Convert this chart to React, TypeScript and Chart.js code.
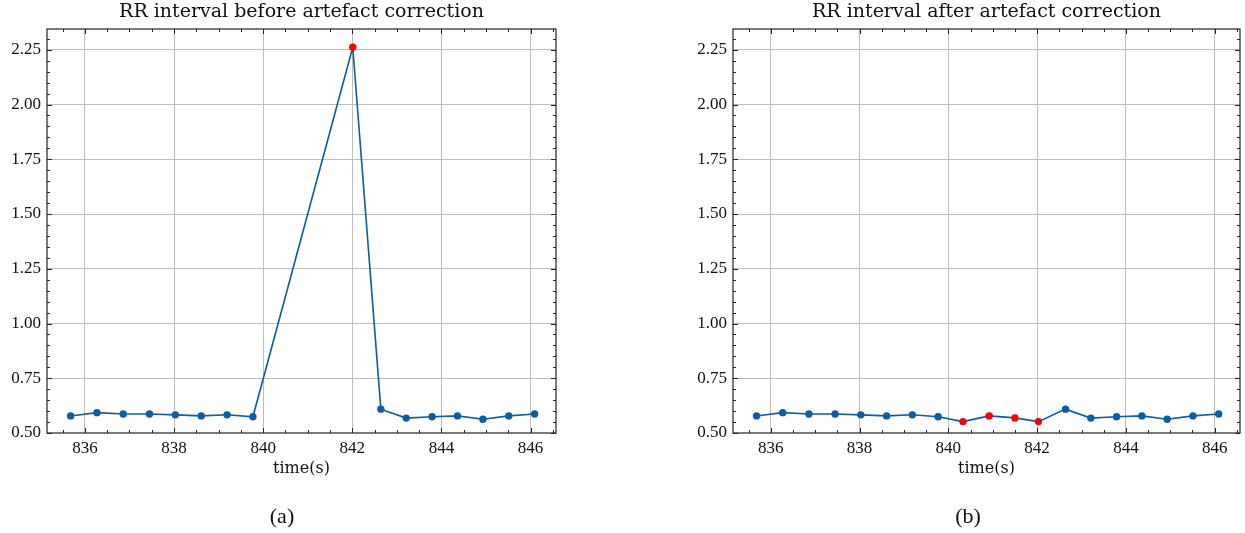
import React, { useEffect, useRef } from "react";
import { Chart, registerables } from "chart.js";

Chart.register(...registerables);

const timesHead = [835.68, 836.27, 836.86, 837.45, 838.03, 838.61, 839.19, 839.77];
const timesTail = [842.64, 843.21, 843.79, 844.36, 844.93, 845.51, 846.09];
const valuesHead = [0.578, 0.593, 0.587, 0.587, 0.583, 0.578, 0.583, 0.574];
const valuesTail = [0.609, 0.568, 0.574, 0.578, 0.563, 0.578, 0.587];

const artefactTimes = [842.01];
const artefactValues = [2.262];
const correctedTimes = [840.33, 840.92, 841.5, 842.03];
const correctedValues = [0.552, 0.578, 0.569, 0.552];

const xTicks = [836, 838, 840, 842, 844, 846];
const yTicks = [0.5, 0.75, 1.0, 1.25, 1.5, 1.75, 2.0, 2.25];

const titles = ["RR interval before artefact correction", "RR interval after artefact correction"];
const captions = ["(a)", "(b)"];
const xLabel = "time(s)";

const X_MIN = 835.15;
const X_MAX = 846.57;
const Y_MIN = 0.5;
const Y_MAX = 2.345;

const BLUE = "#0C5DA5";
const RED = "#FF0000";
const SERIF = "'Liberation Serif', 'DejaVu Serif', serif";
const WIDE_SERIF = "'DejaVu Serif', 'Liberation Serif', serif";

type PanelProps = {
  times: number[];
  values: number[];
  highlight: number[];
  title: string;
  caption: string;
  left: number;
  width: number;
  areaLeft: number;
  areaRight: number;
  captionX: number;
};

function Panel(p: PanelProps) {
  const ref = useRef<HTMLCanvasElement | null>(null);
  useEffect(() => {
    if (!ref.current) return;
    const H = 533;
    const areaTop = 29;
    const areaBottom = 433;
    const pts = p.times.map((t, i) => ({ x: t, y: p.values[i] }));
    const colors = p.times.map((_, i) => (p.highlight.includes(i) ? RED : BLUE));

    const frame = {
      id: "frame",
      afterDraw(chart: any) {
        const { ctx, chartArea: a, scales } = chart;
        const xs = scales.x;
        const ys = scales.y;
        ctx.save();
        ctx.strokeStyle = "#222";
        ctx.lineWidth = 1.2;
        ctx.strokeRect(a.left, a.top, a.right - a.left, a.bottom - a.top);
        ctx.lineWidth = 1;
        for (let k = 0; k <= 30; k++) {
          const v = 835 + k * 0.5;
          if (v < X_MIN || v > X_MAX) continue;
          const px = Math.round(xs.getPixelForValue(v)) + 0.5;
          const major = k % 4 === 2;
          const len = major ? 5 : 3;
          ctx.beginPath();
          ctx.moveTo(px, a.bottom);
          ctx.lineTo(px, a.bottom - len);
          ctx.moveTo(px, a.top);
          ctx.lineTo(px, a.top + len);
          ctx.stroke();
        }
        for (let k = 0; k <= 40; k++) {
          const v = 0.5 + k * 0.05;
          if (v > Y_MAX) break;
          const py = Math.round(ys.getPixelForValue(v)) + 0.5;
          const major = k % 5 === 0;
          const len = major ? 5 : 3;
          ctx.beginPath();
          ctx.moveTo(a.left, py);
          ctx.lineTo(a.left + len, py);
          ctx.moveTo(a.right, py);
          ctx.lineTo(a.right - len, py);
          ctx.stroke();
        }
        ctx.fillStyle = "#111";
        ctx.textAlign = "center";
        ctx.textBaseline = "alphabetic";
        ctx.font = `19px ${WIDE_SERIF}`;
        ctx.fillText(p.title, (a.left + a.right) / 2, 17);
        ctx.font = `16px ${WIDE_SERIF}`;
        ctx.fillText(xLabel, (a.left + a.right) / 2, 473);
        ctx.font = `22px ${SERIF}`;
        ctx.fillText(p.caption, p.captionX - p.left, 523);
        ctx.restore();
      },
    };

    const chart = new Chart(ref.current, {
      type: "line",
      data: {
        datasets: [
          {
            data: pts,
            borderColor: BLUE,
            borderWidth: 1.6,
            pointRadius: 3.7,
            pointHoverRadius: 3.7,
            pointBackgroundColor: colors,
            pointBorderColor: colors,
            pointBorderWidth: 0,
            tension: 0,
            fill: false,
          },
        ],
      },
      options: {
        animation: false,
        responsive: false,
        events: [],
        layout: { padding: { left: 0, right: p.width - p.areaRight, top: areaTop, bottom: 0 } },
        plugins: { legend: { display: false }, title: { display: false }, tooltip: { enabled: false } },
        scales: {
          x: {
            type: "linear",
            min: X_MIN,
            max: X_MAX,
            afterBuildTicks: (s: any) => {
              s.ticks = xTicks.map((v) => ({ value: v }));
            },
            afterFit: (s: any) => {
              s.height = H - areaBottom;
            },
            grid: {
              color: "#bdbdbd",
              lineWidth: 1,
              drawTicks: false,
            },
            border: { display: false },
            ticks: {
              padding: 5,
              color: "#111",
              font: { family: SERIF, size: 17 },
              callback: (v: any) => String(v),
              maxRotation: 0,
            },
          },
          y: {
            type: "linear",
            min: Y_MIN,
            max: Y_MAX,
            afterBuildTicks: (s: any) => {
              s.ticks = yTicks.map((v) => ({ value: v }));
            },
            afterFit: (s: any) => {
              s.width = p.areaLeft;
            },
            grid: {
              color: (c: any) => (c.tick && c.tick.value === Y_MIN ? "rgba(0,0,0,0)" : "#bdbdbd"),
              lineWidth: 1,
              drawTicks: false,
            },
            border: { display: false },
            ticks: {
              padding: 6,
              color: "#111",
              font: { family: SERIF, size: 17 },
              callback: (v: any) => Number(v).toFixed(2),
            },
          },
        },
      },
      plugins: [frame],
    } as any);
    return () => chart.destroy();
  }, []);
  return (
    <canvas
      ref={ref}
      width={p.width}
      height={533}
      style={{ position: "absolute", left: p.left, top: 0, width: p.width, height: 533 }}
    />
  );
}

export default function App() {
  const beforeTimes = [...timesHead, ...artefactTimes, ...timesTail];
  const beforeValues = [...valuesHead, ...artefactValues, ...valuesTail];
  const afterTimes = [...timesHead, ...correctedTimes, ...timesTail];
  const afterValues = [...valuesHead, ...correctedValues, ...valuesTail];
  const beforeHi = artefactTimes.map((_, i) => timesHead.length + i);
  const afterHi = correctedTimes.map((_, i) => timesHead.length + i);
  return (
    <div style={{ position: "absolute", left: 0, top: 0, width: 1245, height: 533, background: "#fff" }}>
      <Panel
        times={beforeTimes}
        values={beforeValues}
        highlight={beforeHi}
        title={titles[0]}
        caption={captions[0]}
        left={0}
        width={620}
        areaLeft={47}
        areaRight={556}
        captionX={282}
      />
      <Panel
        times={afterTimes}
        values={afterValues}
        highlight={afterHi}
        title={titles[1]}
        caption={captions[1]}
        left={620}
        width={625}
        areaLeft={113}
        areaRight={620}
        captionX={968}
      />
    </div>
  );
}
